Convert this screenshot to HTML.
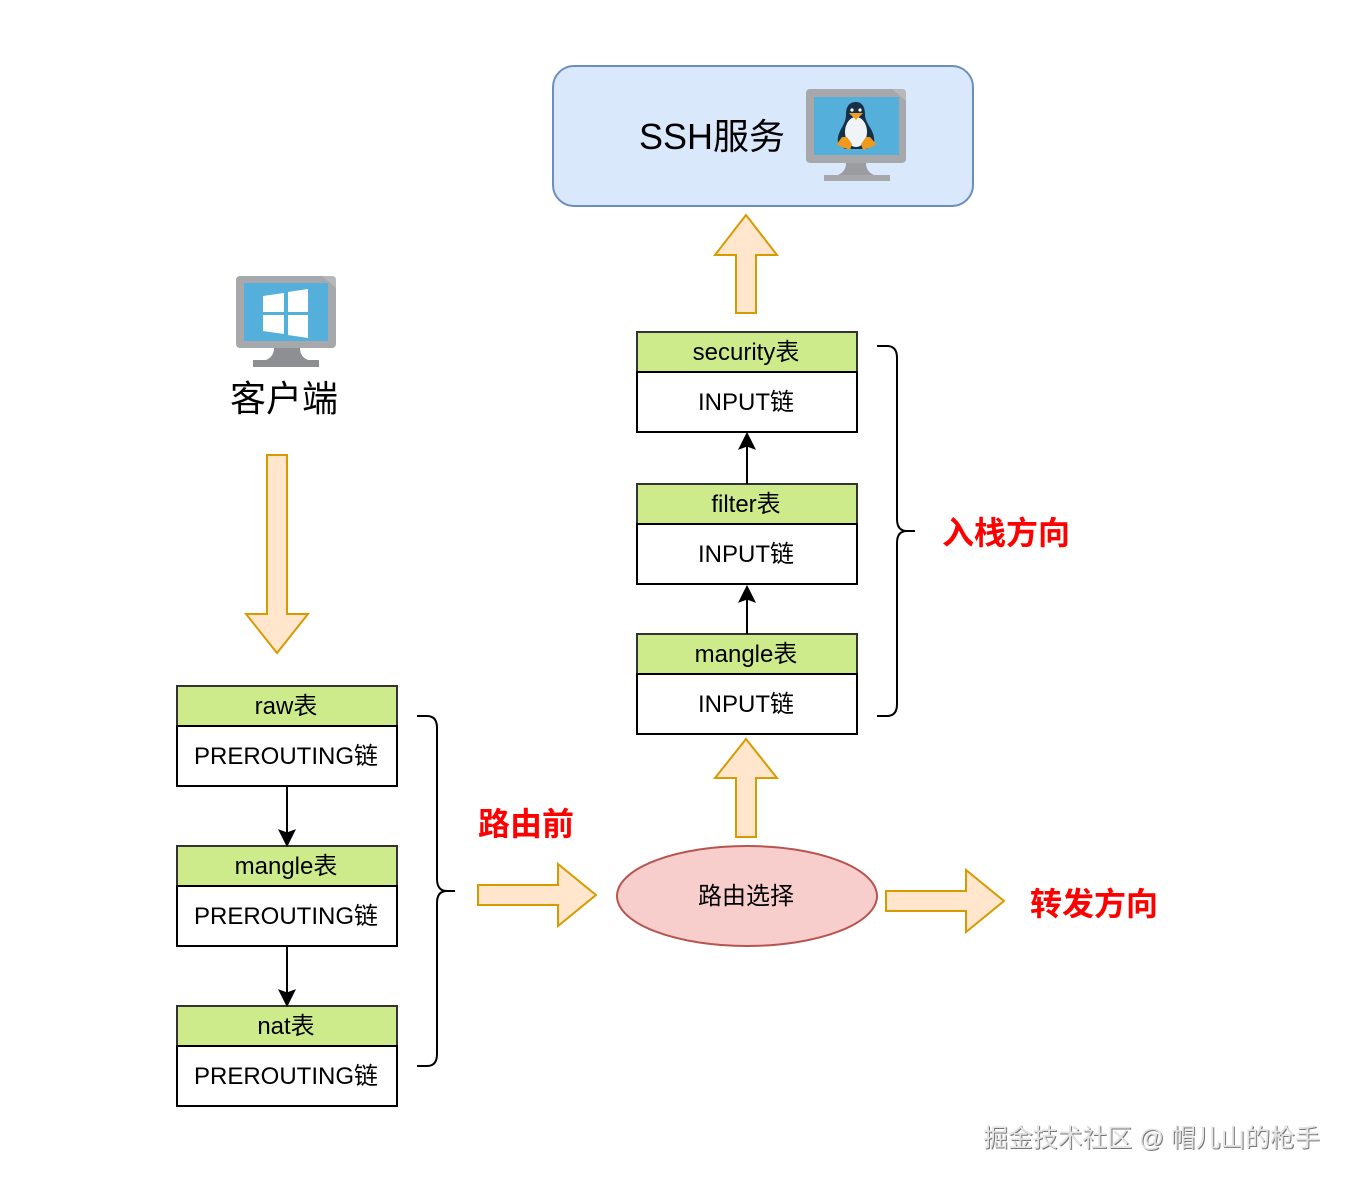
<!DOCTYPE html>
<html lang="zh">
<head>
<meta charset="utf-8">
<title>Diagram</title>
<style>
html,body{margin:0;padding:0;background:#fff}
svg{display:block}
text{font-family:"Liberation Sans","Noto Sans CJK SC",sans-serif;text-anchor:middle;fill:#000}
.t{font-size:24px}
.s{font-size:24px}
.r{font-size:32px;font-weight:bold;fill:#ff0000}
.arrow{fill:#ffe6cc;stroke:#d79b00;stroke-width:2}
.h{fill:#cdeb8b;stroke:#333;stroke-width:2}
.b{fill:#fff;stroke:#000;stroke-width:2}
.l{fill:none;stroke:#000;stroke-width:2}
</style>
</head>
<body>
<svg width="1350" height="1182" viewBox="0 0 1350 1182" xmlns="http://www.w3.org/2000/svg">
<rect width="1350" height="1182" fill="#fff"/>

<!-- SSH box -->
<rect x="553" y="66" width="420" height="140" rx="21" fill="#dae8fc" stroke="#6c8ebf" stroke-width="2"/>
<text x="712" y="149" style="font-size:36px">SSH服务</text>

<!-- Linux monitor -->
<rect x="806" y="89" width="100" height="74" rx="4" fill="#a6a8ab"/>
<path d="M892 89h10a4 4 0 0 1 4 4v8z" fill="#b6b8ba"/>
<rect x="814" y="97" width="85" height="58" fill="#54b0da"/>
<path d="M846 163h20c0 6 3 10 8 12h-36c5-2 8-6 8-12z" fill="#9a9c9f"/>
<rect x="824" y="175" width="66" height="6" fill="#a6a8ab"/>
<!-- penguin -->
<path d="M856 102c-7 0-10 5-10 12 0 6-2 10-5 15-2 4-4 9-3 14l7 6h22l7-6c1-5-1-10-3-14-3-5-6-9-6-15 0-7-3-12-9-12z" fill="#17304a"/>
<ellipse cx="856" cy="132" rx="11" ry="15" fill="#f1f4f6"/>
<path d="M849 113l14 0-7 7z" fill="#f0a028"/>
<circle cx="852" cy="110" r="1.6" fill="#fff"/>
<circle cx="860" cy="110" r="1.6" fill="#fff"/>
<path d="M842 137l-5 7 2 2 11 4 2-6-5-7z" fill="#ee9a1f"/>
<path d="M870 137l6 7-2 2-11 4-2-6 5-7z" fill="#ee9a1f"/>

<!-- Windows monitor -->
<rect x="236" y="276" width="100" height="72" rx="4" fill="#a6a8ab"/>
<path d="M322 276h10a4 4 0 0 1 4 4v8z" fill="#b6b8ba"/>
<rect x="244" y="283" width="84" height="58" fill="#54b0da"/>
<path d="M274 348h26c0 6 3 10 8 12h-42c5-2 8-6 8-12z" fill="#8d8f92"/>
<rect x="253" y="360" width="66" height="7" fill="#8d8f92"/>
<path d="M263 296l21-3v19h-21zM288 292l20-3v23h-20zM263 315h21v19l-21-3zM288 315h20v23l-20-3z" fill="#fff"/>
<text x="284" y="411" style="font-size:36px">客户端</text>

<!-- Block arrows -->
<path class="arrow" d="M736 313V255H715L746 215 777 255H756V313Z"/>
<path class="arrow" d="M267 455V614H246L277 653 308 614H287V455Z"/>
<path class="arrow" d="M736 837V778H715L746 739 777 778H756V837Z"/>
<path class="arrow" d="M478 885H558V864L596 895 558 926V905H478Z"/>
<path class="arrow" d="M886 891H966V870L1004 901 966 932V911H886Z"/>

<!-- Left stack -->
<rect class="h" x="177" y="686" width="220" height="40"/>
<rect class="b" x="177" y="726" width="220" height="60"/>
<text class="t" x="286" y="714">raw表</text>
<text class="s" x="286" y="764">PREROUTING链</text>

<rect class="h" x="177" y="846" width="220" height="40"/>
<rect class="b" x="177" y="886" width="220" height="60"/>
<text class="t" x="286" y="874">mangle表</text>
<text class="s" x="286" y="924">PREROUTING链</text>

<rect class="h" x="177" y="1006" width="220" height="40"/>
<rect class="b" x="177" y="1046" width="220" height="60"/>
<text class="t" x="286" y="1034">nat表</text>
<text class="s" x="286" y="1084">PREROUTING链</text>

<path class="l" d="M287 786V834"/>
<path d="M287 846L279 830 287 833 295 830Z" fill="#000" stroke="#000"/>
<path class="l" d="M287 946V994"/>
<path d="M287 1006L279 990 287 993 295 990Z" fill="#000" stroke="#000"/>

<!-- Right stack -->
<rect class="h" x="637" y="332" width="220" height="40"/>
<rect class="b" x="637" y="372" width="220" height="60"/>
<text class="t" x="746" y="360">security表</text>
<text class="s" x="746" y="410">INPUT链</text>

<rect class="h" x="637" y="484" width="220" height="40"/>
<rect class="b" x="637" y="524" width="220" height="60"/>
<text class="t" x="746" y="512">filter表</text>
<text class="s" x="746" y="562">INPUT链</text>

<rect class="h" x="637" y="634" width="220" height="40"/>
<rect class="b" x="637" y="674" width="220" height="60"/>
<text class="t" x="746" y="662">mangle表</text>
<text class="s" x="746" y="712">INPUT链</text>

<path class="l" d="M747 484V445"/>
<path d="M747 433L739 449 747 446 755 449Z" fill="#000" stroke="#000"/>
<path class="l" d="M747 634V598"/>
<path d="M747 586L739 602 747 599 755 602Z" fill="#000" stroke="#000"/>

<!-- Braces -->
<path class="l" d="M417 716H427Q437 716 437 728V879Q437 891 447 891H455M447 891Q437 891 437 903V1054Q437 1066 427 1066H417"/>
<path class="l" d="M877 346H887Q897 346 897 358V519Q897 531 907 531H915M907 531Q897 531 897 543V704Q897 716 887 716H877"/>

<!-- Ellipse -->
<ellipse cx="747" cy="896" rx="130" ry="50" fill="#f8cecc" stroke="#b85450" stroke-width="2"/>
<text class="t" x="746" y="904">路由选择</text>

<!-- Red labels -->
<text class="r" x="526" y="835">路由前</text>
<text class="r" x="1006" y="544">入栈方向</text>
<text class="r" x="1094" y="915">转发方向</text>

<!-- Watermark -->
<text x="1152.5" y="1147.5" style="font-size:24.8px;fill:#777">掘金技术社区 @ 帽儿山的枪手</text>
<text x="1151.5" y="1146.5" style="font-size:24.8px;fill:#e4e4e4">掘金技术社区 @ 帽儿山的枪手</text>
</svg>
</body>
</html>
